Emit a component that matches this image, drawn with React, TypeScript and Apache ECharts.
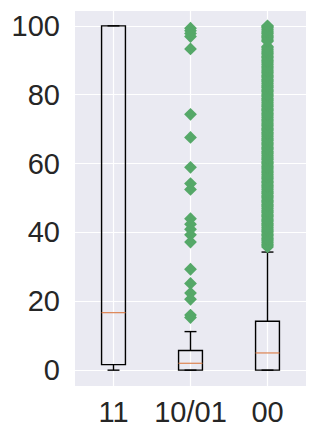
import React, { useEffect, useRef } from "react";
import * as echarts from "echarts";

const categories = ["11", "10/01", "00"];
const whiskerLow = [0, 0, 0];
const q1 = [1.6, 0, 0];
const median = [16.7, 2.0, 5.0];
const q3 = [100, 5.7, 14.2];
const whiskerHigh = [100, 11.2, 34.3];

const outliers1001 = [
  99.3, 98.6, 97.8, 96.9, 93.3, 74.3, 67.6, 58.9, 54.2, 52.5, 44.0, 42.4, 40.9,
  39.3, 37.2, 29.3, 25.2, 22.4, 20.6, 16.0, 15.3,
];

const outliers00 = [
  35.8, 36.1, 36.5, 36.9, 37.2, 37.6, 38.0, 38.3, 38.7, 39.1, 39.4, 39.8, 40.2,
  40.5, 40.9, 41.3, 41.6, 42.0, 42.4, 42.7, 43.1, 43.5, 43.8, 44.2, 44.6, 44.9,
  45.3, 45.7, 46.0, 46.4, 46.8, 47.1, 47.5, 47.9, 48.2, 48.6, 49.0, 49.3, 49.7,
  50.1, 50.4, 50.8, 51.2, 51.5, 51.9, 52.3, 52.6, 53.0, 53.4, 53.7, 54.1, 54.5,
  54.8, 55.2, 55.6, 55.9, 56.3, 56.7, 57.0, 57.4, 57.8, 58.1, 58.5, 58.9, 59.2,
  59.6, 60.0, 60.3, 60.7, 61.1, 61.4, 61.8, 62.2, 62.5, 62.9, 63.3, 63.6, 64.0,
  64.4, 64.7, 65.1, 65.5, 65.8, 66.2, 66.6, 66.9, 67.3, 67.7, 68.0, 68.4, 68.8,
  69.1, 69.5, 69.9, 70.2, 70.6, 71.0, 71.3, 71.7, 72.1, 72.4, 72.8, 73.2, 73.5,
  73.9, 74.3, 74.6, 75.0, 75.4, 75.7, 76.1, 76.5, 76.8, 77.2, 77.6, 77.9, 78.3,
  78.7, 79.0, 79.4, 79.8, 80.1, 80.5, 80.9, 81.2, 81.6, 82.0, 82.3, 82.7, 83.1,
  83.4, 83.8, 84.2, 84.5, 84.9, 85.3, 85.6, 86.0, 86.4, 86.7, 87.1, 87.5, 87.8,
  88.2, 88.6, 88.9, 89.3, 89.7, 90.0, 90.4, 90.8, 91.1, 91.5, 91.9, 92.2, 92.6,
  93.0, 93.3, 93.7, 94.0, 95.5, 95.8, 96.2, 96.6, 96.9, 97.3, 97.7, 98.0, 98.4,
  98.8, 99.1, 99.5, 99.8, 100.0,
];

const outlierSeries: Array<[number, number]> = [
  ...outliers1001.map((v) => [1, v] as [number, number]),
  ...outliers00.map((v) => [2, v] as [number, number]),
];

const boxData = categories.map((_, i) => [
  i,
  whiskerLow[i],
  q1[i],
  median[i],
  q3[i],
  whiskerHigh[i],
]);

export default function App() {
  const ref = useRef<HTMLDivElement>(null);
  useEffect(() => {
    if (!ref.current) return;
    const chart = echarts.init(ref.current, undefined, { renderer: "svg" });
    const font = "'Liberation Sans', Arial, sans-serif";
    chart.setOption({
      animation: false,
      backgroundColor: "#ffffff",
      grid: {
        left: 75,
        right: 10,
        top: 10,
        bottom: 52,
        show: true,
        backgroundColor: "#EAEAF2",
        borderWidth: 0,
      },
      xAxis: {
        type: "category",
        data: categories,
        boundaryGap: true,
        axisLine: { show: false },
        axisTick: { show: false },
        splitLine: { show: false },
        axisLabel: {
          color: "#262626",
          fontSize: 29,
          fontFamily: font,
          margin: 11,
          interval: 0,
        },
      },
      yAxis: {
        type: "value",
        min: -4.6,
        max: 104.6,
        splitNumber: 5,
        axisLine: { show: false },
        axisTick: { show: false },
        splitLine: { show: true, lineStyle: { color: "#ffffff", width: 1.2 } },
        axisLabel: {
          color: "#262626",
          fontSize: 29,
          fontFamily: font,
          margin: 15,
          showMinLabel: false,
          showMaxLabel: false,
        },
      },
      series: [
        {
          type: "custom",
          z: 2,
          data: boxData,
          renderItem: (params: any, api: any) => {
            const idx = api.value(0);
            const cs = params.coordSys;
            const band = api.size([1, 0])[0];
            const bw = band * 0.31;
            const cw = bw / 2;
            const [cx, yLow] = api.coord([idx, api.value(1)]);
            const yQ1 = api.coord([idx, api.value(2)])[1];
            const yMed = api.coord([idx, api.value(3)])[1];
            const yQ3 = api.coord([idx, api.value(4)])[1];
            const yHigh = api.coord([idx, api.value(5)])[1];
            const black = { stroke: "#000000", lineWidth: 1.4, fill: null };
            return {
              type: "group",
              children: [
                {
                  type: "line",
                  shape: { x1: cx, y1: cs.y, x2: cx, y2: cs.y + cs.height },
                  style: { stroke: "#ffffff", lineWidth: 1.2 },
                },
                {
                  type: "line",
                  shape: { x1: cx, y1: yLow, x2: cx, y2: yQ1 },
                  style: black,
                },
                {
                  type: "line",
                  shape: { x1: cx, y1: yQ3, x2: cx, y2: yHigh },
                  style: black,
                },
                {
                  type: "line",
                  shape: { x1: cx - cw / 2, y1: yLow, x2: cx + cw / 2, y2: yLow },
                  style: black,
                },
                {
                  type: "line",
                  shape: { x1: cx - cw / 2, y1: yHigh, x2: cx + cw / 2, y2: yHigh },
                  style: black,
                },
                {
                  type: "rect",
                  shape: { x: cx - bw / 2, y: yQ3, width: bw, height: yQ1 - yQ3 },
                  style: { stroke: "#000000", lineWidth: 1.4, fill: "none" },
                },
                {
                  type: "line",
                  shape: { x1: cx - bw / 2, y1: yMed, x2: cx + bw / 2, y2: yMed },
                  style: { stroke: "#DD8452", lineWidth: 1.2 },
                },
              ],
            };
          },
        },
        {
          type: "scatter",
          z: 3,
          data: outlierSeries,
          symbol: "diamond",
          symbolSize: 12.8,
          itemStyle: { color: "#55A868", opacity: 1 },
          silent: true,
        },
      ],
    });
    return () => chart.dispose();
  }, []);
  return (
    <div
      ref={ref}
      style={{ position: "fixed", left: 0, top: 0, width: 316, height: 438 }}
    />
  );
}
